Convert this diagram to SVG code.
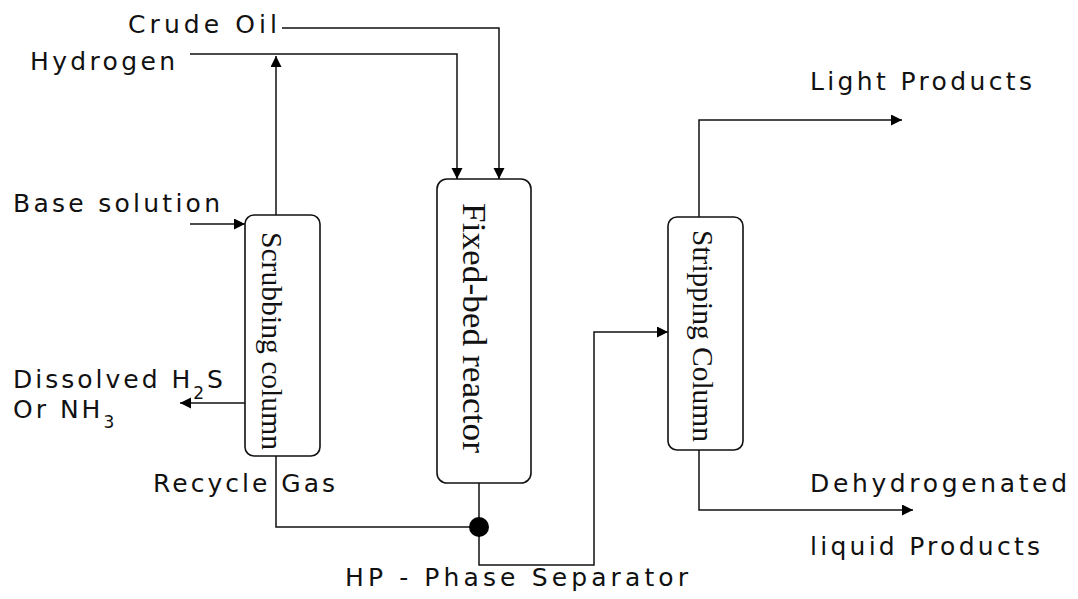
<svg xmlns="http://www.w3.org/2000/svg" width="1078" height="599" viewBox="0 0 1078 599">
<defs>
<marker id="arr" markerUnits="userSpaceOnUse" markerWidth="12" markerHeight="12" refX="11" refY="5.5" orient="auto">
<path d="M0,0 L11,5.5 L0,11 z" fill="#000"/>
</marker>
<style>
.lbl{font-family:"DejaVu Sans","Liberation Sans",sans-serif;font-size:25px;fill:#111;}
.node{font-family:"Liberation Serif","DejaVu Serif",serif;fill:#111;}
.box{fill:#fff;stroke:#111;stroke-width:1.6;}
.ln{fill:none;stroke:#111;stroke-width:1.5;}
</style>
</defs>
<rect width="1078" height="599" fill="#fff"/>
<g id="connectors">
<path class="ln" d="M282,28 H499 V179" marker-end="url(#arr)"/>
<path class="ln" d="M190,54 H457 V179" marker-end="url(#arr)"/>
<path class="ln" d="M276,215 V56" marker-end="url(#arr)"/>
<path class="ln" d="M190,224 H245" marker-end="url(#arr)"/>
<path class="ln" d="M245,403 H180" marker-end="url(#arr)"/>
<path class="ln" d="M276,456 V527 H478"/>
<path class="ln" d="M479,483 V527"/>
<path class="ln" d="M479,527 V565 H594 V332 H668" marker-end="url(#arr)"/>
<path class="ln" d="M699,217 V120 H902" marker-end="url(#arr)"/>
<path class="ln" d="M699,450 V510 H913" marker-end="url(#arr)"/>
<circle cx="479" cy="527" r="10" fill="#000"/>
</g>
<g id="scrubbing-column">
<rect class="box" x="245" y="215" width="75" height="241" rx="9"/>
<text class="node" font-size="30" transform="translate(262,232) rotate(90)" textLength="218" lengthAdjust="spacingAndGlyphs">Scrubbing column</text>
</g>
<g id="fixed-bed-reactor">
<rect class="box" x="437" y="179" width="94" height="304" rx="10"/>
<text class="node" font-size="34" transform="translate(463,203) rotate(90)" textLength="250" lengthAdjust="spacingAndGlyphs">Fixed-bed reactor</text>
</g>
<g id="stripping-column">
<rect class="box" x="668" y="217" width="75" height="233" rx="9"/>
<text class="node" font-size="30" transform="translate(693,230) rotate(90)" textLength="212" lengthAdjust="spacingAndGlyphs">Stripping Column</text>
</g>
<g id="labels">
<text class="lbl" x="128" y="33" textLength="149" lengthAdjust="spacing">Crude Oil</text>
<text class="lbl" x="30" y="70" textLength="145" lengthAdjust="spacing">Hydrogen</text>
<text class="lbl" x="13" y="212" textLength="207" lengthAdjust="spacing">Base solution</text>
<text class="lbl" x="13" y="388" letter-spacing="3">Dissolved H<tspan font-size="17" dy="11">2</tspan><tspan dy="-11">S</tspan></text>
<text class="lbl" x="13" y="418" letter-spacing="3">Or NH<tspan font-size="17" dy="10">3</tspan></text>
<text class="lbl" x="153" y="492" textLength="182" lengthAdjust="spacing">Recycle Gas</text>
<text class="lbl" x="345" y="586" textLength="343" lengthAdjust="spacing">HP - Phase Separator</text>
<text class="lbl" x="810" y="90" textLength="222" lengthAdjust="spacing">Light Products</text>
<text class="lbl" x="810" y="492" textLength="257" lengthAdjust="spacing">Dehydrogenated</text>
<text class="lbl" x="810" y="555" textLength="230" lengthAdjust="spacing">liquid Products</text>
</g>
</svg>
